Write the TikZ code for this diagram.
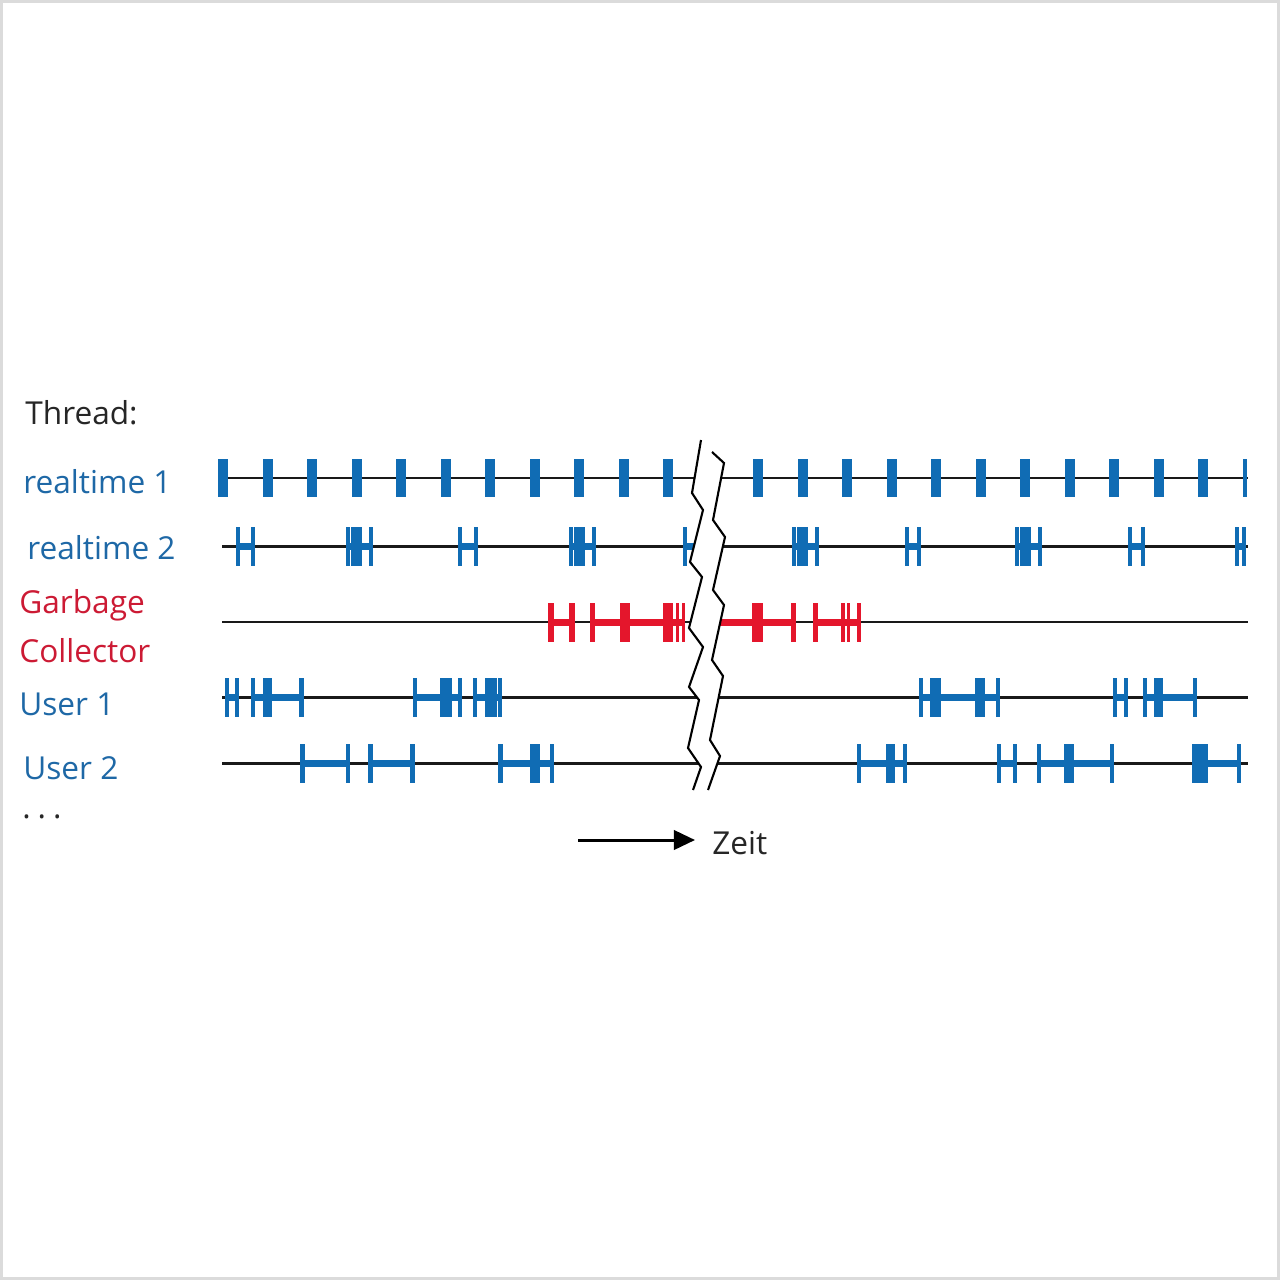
\documentclass[tikz,border=0pt]{standalone}
\usepackage{fontspec}
\setmainfont{Open Sans}
\usetikzlibrary{arrows.meta,positioning}
\definecolor{thrblue}{RGB}{16,108,180}
\definecolor{txtblue}{RGB}{30,104,166}
\definecolor{gcred}{RGB}{228,22,44}
\definecolor{txtred}{RGB}{204,26,52}
\tikzset{lbl/.style={anchor=west,inner sep=0pt,font=\fontsize{18}{27.8}\selectfont},axis/.style={line width=1.7pt,black!90},brk/.style={line width=1.2pt,black},arrow/.style={-{Triangle[length=12pt,width=11pt]},line width=1.7pt}}
% event bars and running segments of one thread row
\newcommand{\evbars}[3]{\foreach \a/\b in {#3} \fill[#1] (\a,#2-19.5) rectangle (\b,#2+19.5);}
\newcommand{\evruns}[3]{\foreach \a/\b in {#3} \fill[#1] (\a,#2-3.5) rectangle (\b,#2+3.5);}

\begin{document}
\begin{tikzpicture}[x=0.02cm,y=-0.02cm]
\useasboundingbox (0,0) rectangle (1280,1280);
\draw[black!14,line width=1.7pt] (1.5,1.5) rectangle (1278.5,1278.5);
% labels
\node[lbl,text=black!85] (thread) at (25,413) {Thread:};
\node[lbl,text=txtblue] (rt1) at (23,482) {realtime 1};
\node[lbl,text=txtblue] (rt2) at (27,548) {realtime 2};
\node[lbl,text=txtred,align=left] (gc) at (19,626.5) {Garbage\\Collector};
\node[lbl,text=txtblue] (usr1) at (19,704) {User 1};
\node[lbl,text=txtblue] (usr2) at (23,768) {User 2};
\node[lbl,text=black!85] (more) at (22,817) {.\hspace{0.22em}.\hspace{0.22em}.};
% time lines
\foreach \y in {478,546.5,622,697,763} \draw[axis] (222,\y) -- (1248,\y);
\foreach \x in {223,267.5,...,669,758,802.5,...,1204} \fill[thrblue] (\x-5,459) rectangle (\x+5,497);
\fill[thrblue] (1243,459) rectangle (1247,497);
\evbars{thrblue}{546.5}{236/240,251/255,346/349.5,350.5/362,369/373,458/462,474/478,569/572.5,573.5/585,592/596,683/687,792/795.5,796.5/808,815/819,905/909,917/921,1015/1018.5,1019.5/1031,1038/1042,1128/1132,1141/1145,1235/1239,1242/1246}
\evruns{thrblue}{546.5}{236/255,346/373,458/478,569/596,683/700,792/819,905/921,1015/1042,1128/1145,1235/1246}
\evbars{gcred}{622}{548/554,569/575,590/595,620/630,663/673,676/679,682/685,752/763,791/796,813/818,841/845,847/850,857/861}
\evruns{gcred}{622}{548/575,590/685,700/796,813/861}
\evbars{thrblue}{697}{225/229,235/239,251/255,263/272,299/304,413/417,440/452,458/462,473/477,485/497,498/502,919/923,930/941,975/985,996/1000,1113/1117,1124/1128,1143/1147,1154/1163,1193/1197}
\evruns{thrblue}{697}{225/239,251/304,413/462,473/502,919/1000,1113/1128,1143/1197}
\evbars{thrblue}{763}{300/305,346/350,368/373,410/415,498/503,530/540,550/554,857/861,886/895,903/907,997/1001,1013/1017,1037/1041,1064/1074,1110/1114,1192/1208,1237/1241}
\evruns{thrblue}{763}{300/350,368/415,498/554,857/907,997/1017,1037/1114,1192/1241}
% break
\fill[white] (701,440) -- (692,493) -- (703,510) -- (690,562) -- (702,577) -- (689,628) -- (703,647) -- (689,687) -- (699,700) -- (688,748) -- (701,767) -- (693,790) -- (708,790) -- (720,756) -- (710,740) -- (723,676) -- (712,660) -- (724,605) -- (713,590) -- (725,537) -- (713,520) -- (724,463) -- (712,452) -- cycle;
\draw[brk] (701,440) -- (692,493) -- (703,510) -- (690,562) -- (702,577) -- (689,628) -- (703,647) -- (689,687) -- (699,700) -- (688,748) -- (701,767) -- (693,790);
\draw[brk] (712,452) -- (724,463) -- (713,520) -- (725,537) -- (713,590) -- (724,605) -- (712,660) -- (723,676) -- (710,740) -- (720,756) -- (708,790);
% time arrow
\coordinate (tstart) at (578,840);
\node[lbl,text=black!85] (zeit) at (712,843) {Zeit};
\draw[arrow,shorten >=0.34cm] (tstart) -- (tstart -| zeit.west);
\end{tikzpicture}
\end{document}
